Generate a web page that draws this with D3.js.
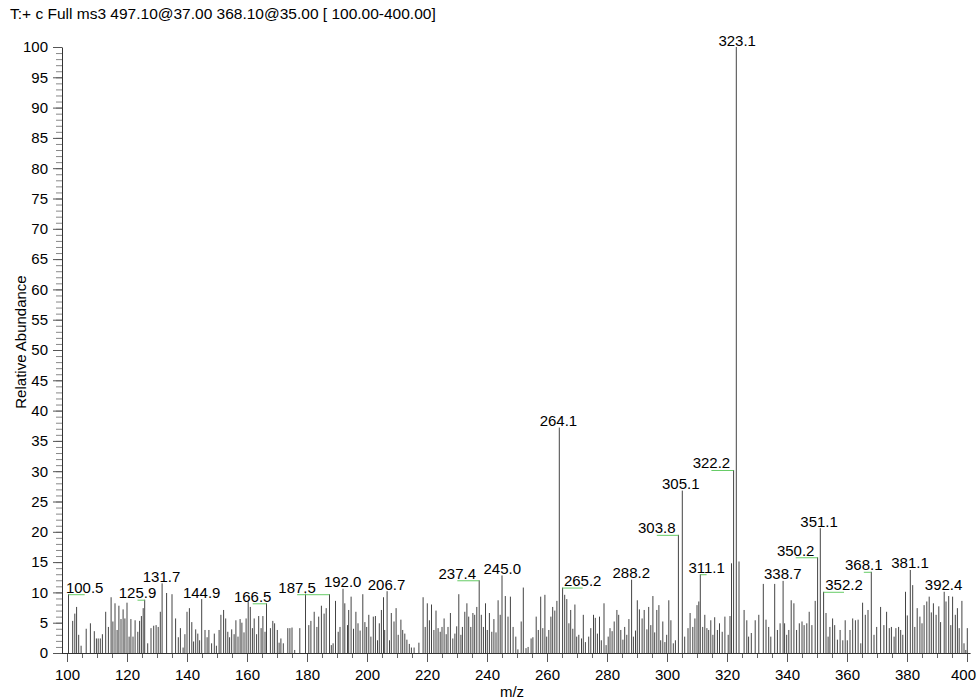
<!DOCTYPE html>
<html>
<head>
<meta charset="utf-8">
<script src="https://cdn.jsdelivr.net/npm/d3@7"></script>
<style>
body { margin: 0; background: #fff; }
svg { font-family: Arial, "Liberation Sans", sans-serif; }
</style>
</head>
<body>
<script>
// scan header
const title = "T:+ c Full ms3 497.10@37.00 368.10@35.00 [ 100.00-400.00]";

// centroid peaks [m/z, relative abundance]
const peaks = [
    [100.5, 9.7], [101.9, 5.3], [102.6, 6.5], [103.2, 7.6], [103.9, 3.0], [104.7, 1.2], [106.4, 4.0], [107.8, 4.9],
    [109.1, 3.6], [109.8, 2.4], [110.4, 2.4], [111.1, 2.4], [111.8, 3.1], [112.9, 6.8], [113.8, 4.3], [114.7, 9.2],
    [115.3, 5.2], [116.0, 8.2], [116.7, 3.8], [117.3, 7.8], [118.0, 5.6], [118.7, 7.2], [119.3, 5.7], [120.0, 8.3],
    [120.7, 2.7], [121.3, 5.6], [122.0, 2.7], [122.7, 5.4], [123.6, 3.5], [124.2, 5.3], [124.8, 6.1], [125.4, 7.4],
    [125.9, 8.8], [126.9, 1.6], [128.0, 4.1], [128.9, 4.5], [129.7, 4.6], [130.4, 4.3], [131.1, 6.8], [131.7, 11.5],
    [133.2, 9.9], [135.0, 9.7], [136.2, 5.7], [137.1, 2.6], [137.8, 4.1], [138.7, 0.9], [139.3, 3.1], [140.0, 6.8],
    [140.8, 7.4], [141.6, 5.1], [142.2, 1.9], [142.9, 3.9], [143.6, 3.2], [144.2, 2.1], [144.9, 8.9], [146.0, 3.8],
    [146.7, 2.6], [147.3, 3.8], [148.2, 1.6], [149.1, 3.2], [149.8, 1.2], [150.7, 3.8], [151.3, 6.3], [152.2, 7.1],
    [152.9, 5.7], [153.6, 3.5], [154.2, 2.6], [154.9, 3.9], [155.7, 3.1], [156.3, 5.4], [157.0, 2.7], [157.7, 5.6],
    [158.3, 5.0], [159.0, 3.4], [159.7, 5.7], [160.4, 8.5], [161.1, 7.6], [161.8, 4.1], [162.4, 5.7], [163.2, 3.1],
    [163.9, 6.1], [164.7, 4.1], [165.3, 6.1], [166.0, 3.5], [166.5, 8.2], [167.8, 4.1], [168.6, 5.3], [169.2, 4.9],
    [170.1, 3.8], [170.7, 1.7], [171.3, 2.4], [172.1, 1.6], [173.6, 4.1],
    [174.3, 4.1], [175.0, 4.2], [175.9, 0.5], [177.6, 4.1], [179.5, 9.8], [180.6, 4.6], [181.3, 5.3], [182.4, 6.8],
    [183.3, 4.3], [183.9, 6.0], [184.8, 7.8], [185.7, 6.5], [186.4, 7.4], [187.5, 9.7], [188.1, 1.3], [188.7, 1.6],
    [189.5, 8.6], [190.4, 3.5], [191.0, 4.3], [192.0, 10.6], [192.6, 8.2], [193.5, 4.6], [193.9, 7.1], [194.7, 9.3],
    [195.5, 4.0], [196.3, 6.8], [197.0, 4.9], [197.7, 3.7], [198.6, 9.7], [199.3, 5.1], [199.9, 4.3], [200.6, 6.3],
    [201.3, 2.7], [202.1, 6.0], [202.8, 6.1], [203.5, 2.1], [204.1, 4.9], [204.8, 7.1], [205.5, 9.2], [205.9, 3.8],
    [206.7, 10.2], [207.5, 2.1], [208.1, 6.6], [209.0, 5.2], [209.7, 7.4], [210.4, 3.0], [211.3, 5.5], [211.9, 3.8],
    [212.6, 3.2], [213.3, 2.2], [214.1, 1.5], [214.8, 0.9], [215.7, 0.9], [217.3, 1.7], [218.7, 9.2], [219.4, 4.3],
    [220.1, 8.2], [220.8, 5.4], [221.5, 8.0], [222.3, 3.8], [223.0, 7.0], [223.7, 4.1], [224.4, 3.5], [225.0, 4.3],
    [225.7, 5.7], [226.4, 3.1], [227.0, 4.3], [227.8, 6.6], [228.6, 2.4], [229.3, 3.2], [229.9, 4.4], [230.6, 9.7],
    [231.3, 3.0], [231.8, 4.3], [232.6, 6.8], [233.3, 8.2], [233.9, 6.0], [234.6, 4.3], [235.3, 6.6], [235.9, 6.3],
    [236.6, 7.6], [237.4, 12.0], [238.1, 6.3], [238.8, 4.3], [239.5, 8.2], [240.1, 3.8], [240.8, 6.6], [241.6, 3.5],
    [242.3, 5.6], [243.0, 3.4], [243.7, 8.7], [244.4, 6.3], [245.0, 12.8], [246.1, 9.4], [247.0, 6.0], [247.8, 9.3],
    [248.7, 4.3], [249.6, 2.7],
    [250.3, 0.6], [251.4, 5.2], [252.1, 10.8], [253.0, 0.8], [253.7, 1.0], [254.7, 2.4], [255.3, 2.6], [256.4, 6.0],
    [257.1, 3.8], [257.9, 9.3], [258.6, 4.1], [259.3, 9.6], [259.9, 2.7], [260.6, 3.8], [261.3, 6.0], [261.9, 7.6],
    [262.6, 7.0], [263.3, 8.6], [264.1, 37.2], [265.2, 10.8], [265.9, 9.6], [266.6, 8.9], [267.3, 4.9], [267.9, 7.1],
    [268.6, 4.0], [269.3, 8.0], [269.9, 2.7], [270.6, 3.0], [271.5, 2.4], [272.1, 6.3], [272.8, 1.8], [273.9, 2.7],
    [274.6, 4.1], [275.5, 6.3], [276.1, 5.8], [276.8, 3.2], [277.5, 6.0], [278.1, 2.1], [279.0, 8.2], [279.7, 1.3],
    [280.4, 2.7], [281.0, 4.1], [281.7, 3.6], [282.4, 5.2], [283.3, 7.1], [283.9, 6.3], [284.6, 3.8], [285.3, 2.2],
    [285.9, 4.3], [286.6, 3.0], [287.3, 5.6], [288.2, 12.1], [288.8, 2.7], [289.5, 3.7], [290.1, 8.7], [290.8, 7.2],
    [291.7, 5.7], [292.4, 7.1], [293.3, 3.9], [293.9, 7.6], [294.6, 4.6], [295.3, 9.4], [295.9, 3.4], [296.6, 7.1],
    [297.3, 7.9], [297.9, 2.1], [298.6, 5.2], [299.3, 1.8], [299.9, 3.0], [300.6, 8.7], [301.3, 5.4], [302.1, 1.6],
    [302.8, 2.1], [303.8, 19.5], [305.1, 26.8], [305.9, 2.7], [307.0, 4.1], [307.7, 6.6], [308.6, 4.3], [309.3, 5.7],
    [310.0, 7.9], [310.6, 8.5], [311.1, 13.0], [311.9, 4.3], [312.6, 6.3], [313.3, 4.1], [313.9, 3.8], [314.6, 5.4],
    [315.3, 3.0], [315.9, 5.9], [316.8, 3.8], [317.5, 4.9], [318.4, 3.5], [319.3, 6.0], [320.4, 3.0], [321.0, 6.1],
    [321.5, 14.8], [322.2, 30.2], [323.1, 100], [324.0, 15.1], [325.7, 7.1],
    [326.6, 5.4], [327.2, 2.7], [328.1, 3.3], [329.4, 5.4], [330.6, 6.3], [332.1, 11.4], [333.0, 5.5], [333.9, 4.3],
    [334.6, 2.7], [335.9, 11.4], [336.8, 3.8], [337.7, 4.9], [338.7, 11.9], [339.2, 4.9], [339.9, 3.0], [340.6, 3.8],
    [341.4, 8.7], [342.3, 8.2], [343.2, 3.8], [344.1, 4.9], [345.0, 5.2], [345.7, 4.6], [346.6, 4.9], [347.4, 6.8],
    [348.3, 4.6], [349.4, 8.6], [350.2, 15.8], [351.1, 20.6], [352.2, 10.1], [353.0, 6.6], [353.7, 2.7], [354.3, 4.3],
    [355.2, 5.7], [355.9, 4.6], [356.8, 2.2], [357.7, 3.8], [358.6, 2.1], [359.4, 5.4], [360.1, 2.1], [361.0, 3.8],
    [361.9, 5.7], [362.8, 5.4], [363.7, 5.5], [364.6, 1.6], [365.2, 8.3], [366.1, 6.3], [367.0, 7.1], [368.1, 13.4],
    [369.0, 3.0], [369.9, 4.3], [371.2, 7.6], [372.3, 4.6], [373.2, 6.8], [374.1, 4.1], [374.8, 4.3], [375.7, 2.7],
    [376.3, 4.1], [377.2, 4.3], [377.9, 3.8], [378.6, 3.0], [379.5, 10.1], [380.1, 6.2], [381.1, 13.7], [381.9, 11.2],
    [382.6, 4.3], [383.4, 7.4], [384.3, 6.0], [385.0, 4.9], [385.7, 7.9], [386.6, 8.5], [387.4, 9.3], [388.1, 6.7],
    [388.8, 8.2], [389.7, 6.3], [390.6, 7.7], [391.2, 5.1], [392.4, 10.1], [393.0, 8.5], [393.9, 9.4], [394.6, 4.6],
    [395.2, 9.3], [396.1, 6.3], [396.8, 7.4], [397.4, 4.1], [398.3, 8.6], [399.0, 1.6], [399.6, 0.5], [400.1, 4.1]
];

// labelled peaks, and the m/z where each label text is centred
const labelMz = [100.5, 125.9, 131.7, 144.9, 166.5, 187.5, 192.0, 206.7, 237.4, 245.0, 264.1, 265.2, 288.2,
    303.8, 305.1, 311.1, 322.2, 323.1, 338.7, 350.2, 351.1, 352.2, 368.1, 381.1, 392.4];
const labelCenter = [105.9, 123.5, 131.5, 144.9, 161.9, 176.7, 191.9, 206.5, 230.1, 245.1, 263.8, 271.9, 288.1,
    296.6, 304.6, 313.2, 314.8, 323.4, 338.6, 342.9, 350.7, 359.0, 365.6, 381.0, 392.2];

const yMajor = d3.range(0, 101, 5);
const yMinor = d3.range(0, 101, 1);
const xMajor = d3.range(100, 401, 20);
const xMinor = d3.range(100, 401, 5);

const w = 978;
const h = 700;
const svg = d3.select("body")
    .append("svg")
    .attr("width", w)
    .attr("height", h);

const x = d3.scaleLinear().domain([100, 400]).range([67, 967]);
const y = d3.scaleLinear().domain([0, 100]).range([653, 47]);
const axisX = 62; // y axis sits a little left of m/z 100

// title
svg.append("text")
    .attr("x", 10)
    .attr("y", 19)
    .style("font-size", "15.5px")
    .text(title);

// y axis: minor ticks first, then major with labels
svg.append("g")
    .attr("transform", `translate(${axisX},0)`)
    .call(d3.axisLeft(y).tickValues(yMinor).tickSize(6).tickFormat("").tickSizeOuter(0))
    .call(g => g.select(".domain").remove())
    .call(g => g.selectAll("line").attr("stroke", "#888"));

svg.append("g")
    .attr("transform", `translate(${axisX},0)`)
    .call(d3.axisLeft(y).tickValues(yMajor).tickSize(9).tickPadding(5).tickSizeOuter(0))
    .call(g => g.select(".domain").attr("stroke", "#333"))
    .call(g => g.selectAll("line").attr("stroke", "#555"))
    .call(g => g.selectAll("text").style("font-size", "15px").attr("fill", "#000"));

// x axis
svg.append("g")
    .attr("transform", `translate(0,${y(0)})`)
    .call(d3.axisBottom(x).tickValues(xMinor).tickSize(5).tickFormat("").tickSizeOuter(0))
    .call(g => g.select(".domain").remove())
    .call(g => g.selectAll("line").attr("stroke", "#666"));

svg.append("g")
    .attr("transform", `translate(0,${y(0)})`)
    .call(d3.axisBottom(x).tickValues(xMajor).tickSize(9).tickPadding(7).tickSizeOuter(0))
    .call(g => g.select(".domain").remove())
    .call(g => g.selectAll("line").attr("stroke", "#555"))
    .call(g => g.selectAll("text").style("font-size", "15px").attr("fill", "#000"))
    .call(g => g.selectAll("text").filter(d => d === 400).attr("dx", -4)); // keep last label inside

svg.append("line")
    .attr("x1", axisX)
    .attr("x2", x(401.2))
    .attr("y1", y(0) + 0.5)
    .attr("y2", y(0) + 0.5)
    .attr("stroke", "#333");

// axis titles
svg.append("text")
    .attr("x", 512)
    .attr("y", 697)
    .attr("text-anchor", "middle")
    .style("font-size", "15px")
    .text("m/z");

svg.append("text")
    .attr("transform", "translate(26,342) rotate(-90)")
    .attr("text-anchor", "middle")
    .style("font-size", "15px")
    .text("Relative Abundance");

// stick spectrum
svg.append("g")
    .selectAll("line")
    .data(peaks)
    .enter()
    .append("line")
    .attr("x1", d => x(d[0]))
    .attr("x2", d => x(d[0]))
    .attr("y1", y(0))
    .attr("y2", d => y(d[1]))
    .attr("stroke", "#444")
    .attr("stroke-width", 1);

// peak labels with green leader lines when shifted
const labels = labelMz.map((m, i) => {
    const p = peaks.find(d => Math.abs(d[0] - m) < 0.05);
    return { mz: m, at: labelCenter[i], val: p[1] };
});

svg.append("g")
    .selectAll("line")
    .data(labels.filter(d => Math.abs(d.at - d.mz) > 0.6))
    .enter()
    .append("line")
    .attr("x1", d => x(d.mz))
    .attr("x2", d => x(d.at))
    .attr("y1", d => y(d.val) + 0.5)
    .attr("y2", d => y(d.val) + 0.5)
    .attr("stroke", "#66cc66")
    .attr("stroke-width", 1);

svg.append("g")
    .selectAll("text")
    .data(labels)
    .enter()
    .append("text")
    .attr("x", d => x(d.at))
    .attr("y", d => y(d.val) - 1.5)
    .attr("text-anchor", "middle")
    .style("font-size", "15px")
    .text(d => d.mz.toFixed(1));
</script>
</body>
</html>
